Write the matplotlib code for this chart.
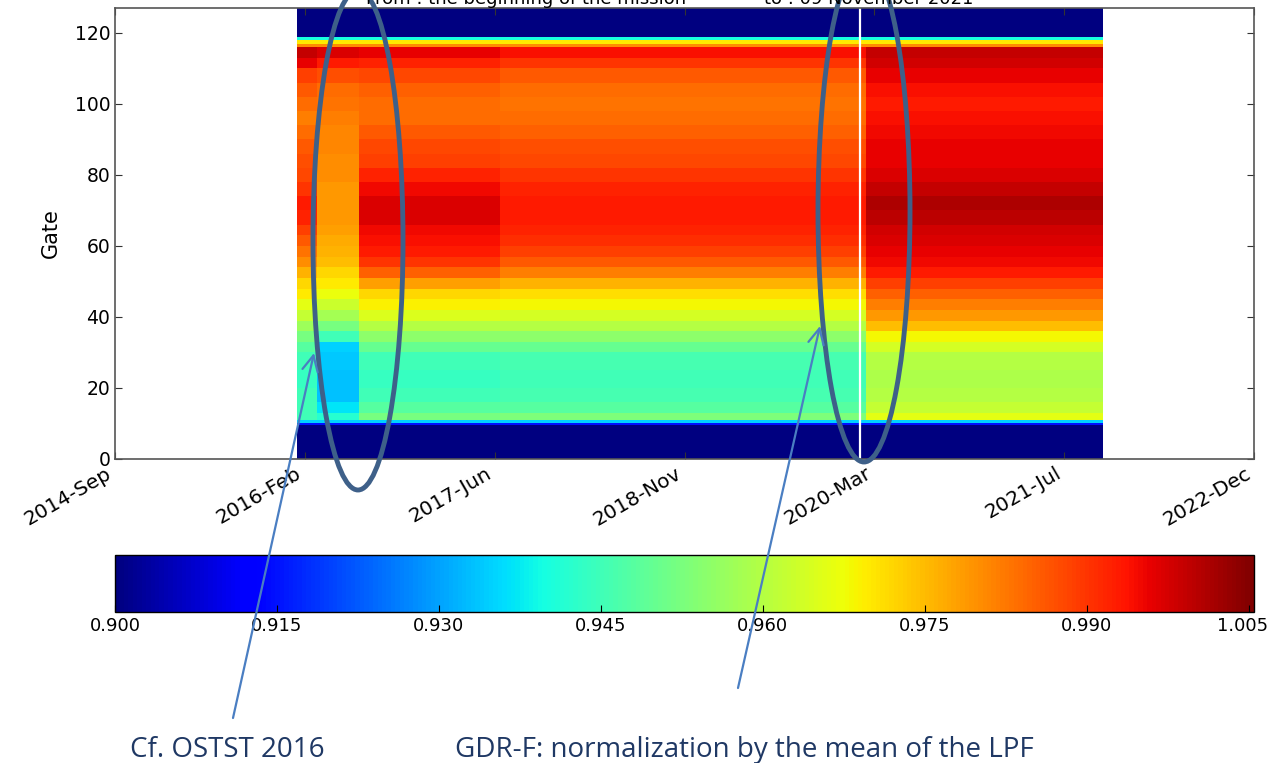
import numpy as np
import matplotlib
matplotlib.use("Agg")
from matplotlib import pyplot as plt
from matplotlib.patches import Ellipse, FancyArrowPatch
from matplotlib.transforms import ScaledTranslation

W, H = 1271, 763

# x axis in decimal years, ticks labelled by month
x_min, x_max = 2014.7, 2022.95
x_tick_labels = ["2014-Sep", "2016-Feb", "2017-Jun", "2018-Nov",
                 "2020-Mar", "2021-Jul", "2022-Dec"]
y_ticks = [0, 20, 40, 60, 80, 100, 120]
n_gates = 127

# start/end of each period with an (almost) constant gate profile
period_edges = [2016.018, 2016.163, 2016.467, 2017.49, 2020.14, 2021.856]
gdrf_date = 2020.096   # white line

gate_edges = [0, 9.5, 10.2, 11, 13, 16, 20, 25, 30, 33, 36, 39, 42, 45, 48, 51,
              54, 57, 60, 63, 66, 70, 74, 78, 82, 86, 90, 94, 98, 102, 106,
              110, 113, 116, 117, 118, 118.8, 127]

# normalized waveform per gate band, one list per period
early_a = [0.85, 0.915, 0.935, 0.945, 0.945, 0.945, 0.944, 0.945, 0.948, 0.952,
           0.957, 0.962, 0.966, 0.970, 0.972, 0.976, 0.980, 0.983, 0.986, 0.989,
           0.992, 0.993, 0.990, 0.988, 0.987, 0.986, 0.984, 0.982, 0.984, 0.986,
           0.989, 0.996, 0.999, 0.980, 0.970, 0.940, 0.85]
early_b = [0.85, 0.915, 0.935, 0.942, 0.937, 0.933, 0.933, 0.934, 0.935, 0.945,
           0.952, 0.958, 0.963, 0.967, 0.970, 0.972, 0.975, 0.976, 0.977, 0.978,
           0.979, 0.979, 0.979, 0.980, 0.980, 0.981, 0.981, 0.982, 0.983, 0.984,
           0.987, 0.993, 0.997, 0.980, 0.970, 0.940, 0.85]
middle_a = [0.85, 0.915, 0.935, 0.952, 0.948, 0.945, 0.944, 0.945, 0.950, 0.955,
            0.960, 0.965, 0.969, 0.972, 0.978, 0.985, 0.990, 0.993, 0.994, 0.995,
            0.997, 0.997, 0.995, 0.992, 0.989, 0.988, 0.986, 0.984, 0.984, 0.985,
            0.988, 0.992, 0.996, 0.980, 0.970, 0.940, 0.85]
middle_b = [0.85, 0.915, 0.935, 0.953, 0.948, 0.946, 0.945, 0.946, 0.950, 0.955,
            0.960, 0.964, 0.968, 0.971, 0.976, 0.982, 0.986, 0.989, 0.991, 0.992,
            0.993, 0.993, 0.992, 0.990, 0.988, 0.987, 0.985, 0.984, 0.983, 0.984,
            0.986, 0.990, 0.994, 0.980, 0.970, 0.940, 0.85]
late = [0.85, 0.915, 0.935, 0.966, 0.962, 0.960, 0.959, 0.960, 0.964, 0.968,
        0.975, 0.979, 0.982, 0.985, 0.989, 0.993, 0.995, 0.996, 0.997, 0.998,
        1.000, 1.001, 0.999, 0.997, 0.996, 0.996, 0.995, 0.994, 0.993, 0.994,
        0.996, 0.998, 0.999, 0.980, 0.970, 0.940, 0.85]

cbar_ticks = [0.900, 0.915, 0.930, 0.945, 0.960, 0.975, 0.990, 1.005]
vmin, vmax = 0.900, 1.0055

title_left = "From : the beginning of the mission"
title_right = "to : 09 November 2021"
note_left = "Cf. OSTST 2016"
note_right = "GDR-F: normalization by the mean of the LPF"


def fig_xy(px, py):
    # pixel position in the picture -> figure fraction
    return px / W, 1 - py / H


fig = plt.figure(figsize=(W / 100, H / 100), dpi=100)
ax = fig.add_axes([115 / W, 1 - 459 / H, 1139 / W, 451 / H])
cax = fig.add_axes([115 / W, 1 - 612 / H, 1139 / W, 57 / H])

Z = np.array([early_a, early_b, middle_a, middle_b, late]).T
mesh = ax.pcolormesh(period_edges, gate_edges, Z, cmap="jet",
                     vmin=vmin, vmax=vmax, shading="flat")
ax.axvline(gdrf_date, color="white", lw=1.6)

ax.set_xlim(x_min, x_max)
ax.set_ylim(0, n_gates)
ax.set_xticks(np.linspace(x_min, x_max, len(x_tick_labels)))
ax.set_xticklabels(x_tick_labels, rotation=30, ha="right", fontsize=14.5)
ax.set_yticks(y_ticks)
ax.set_ylabel("Gate", fontsize=15, labelpad=10)
ax.tick_params(direction="in", top=True, right=True, length=5, color="#333333")
ax.tick_params(axis="y", labelsize=13.5)
for s in ax.spines.values():
    s.set_color("#555555")
    s.set_linewidth(1.2)

fig.text(366 / W, 1 - 4 / H, title_left, fontsize=13, ha="left", va="baseline")
fig.text(764 / W, 1 - 4 / H, title_right, fontsize=13, ha="left", va="baseline")

cbar = fig.colorbar(mesh, cax=cax, orientation="horizontal", ticks=cbar_ticks)
cbar.ax.set_xticklabels(["%.3f" % t for t in cbar_ticks])
cbar.ax.tick_params(direction="in", length=5, labelsize=13)
cbar.outline.set_linewidth(1.0)
# keep the last label inside the picture
last = cbar.ax.get_xticklabels()[-1]
last.set_transform(last.get_transform() + ScaledTranslation(-6 / 100, 0, fig.dpi_scale_trans))

# annotations drawn on top of the figure
ell_color = "#3E6089"
for cx, cy, w, h in [(358, 240, 90, 500), (864, 211, 92, 502)]:
    x0, y0 = fig_xy(cx, cy)
    e = Ellipse((x0, y0), w / W, h / H, transform=fig.transFigure,
                fill=False, edgecolor=ell_color, lw=3.5, clip_on=False)
    fig.add_artist(e)

arrow_color = "#4A7EC2"
for (tx, ty), (hx, hy) in [((233, 718), (314, 353)), ((738, 688), (820, 326))]:
    a = FancyArrowPatch(fig_xy(tx, ty), fig_xy(hx, hy), transform=fig.transFigure,
                        arrowstyle="->", mutation_scale=28, color=arrow_color,
                        lw=1.6, shrinkA=0, shrinkB=0)
    fig.add_artist(a)

note_color = "#1F3864"
fig.text(130 / W, 1 - 757 / H, note_left, fontsize=20, color=note_color,
         family="Open Sans", ha="left", va="baseline")
fig.text(455 / W, 1 - 757 / H, note_right, fontsize=20, color=note_color,
         family="Open Sans", ha="left", va="baseline")

fig.savefig("out.png", dpi=100)
